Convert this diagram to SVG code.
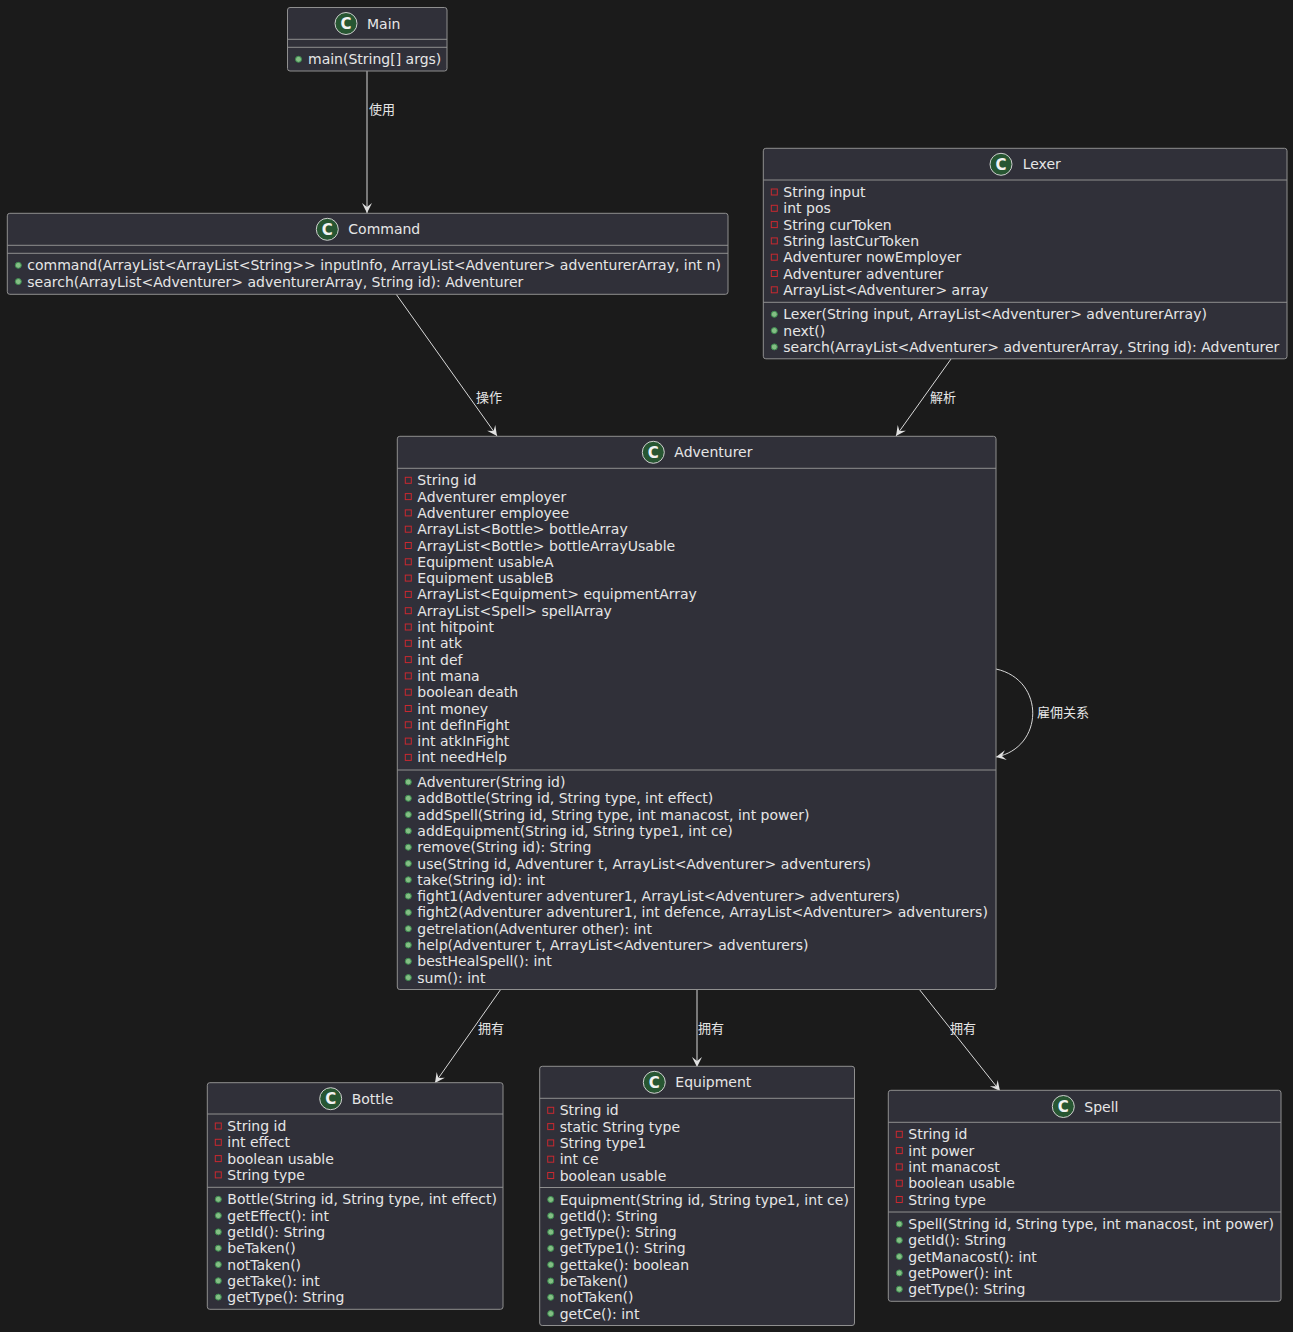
<svg xmlns="http://www.w3.org/2000/svg" xmlns:xlink="http://www.w3.org/1999/xlink" width="1293" height="1332" viewBox="0 0 1293 1332">
<style>
.box{fill:#303039;stroke:#8f8f8f;stroke-width:1}
.div{stroke:#8f8f8f;stroke-width:1}
.t{font-family:"DejaVu Sans",sans-serif;font-size:14px;fill:#e6e6e6}
.lbl{font-family:"Noto Sans CJK SC","DejaVu Sans",sans-serif;font-size:13px;fill:#e6e6e6}
.ci{fill:#275632;stroke:#cfcfcf;stroke-width:1}
.cl{font-family:"DejaVu Sans",sans-serif;font-size:15px;font-weight:bold;fill:#f2f2f2;text-anchor:middle}
.edge{fill:none;stroke:#d8d8d8;stroke-width:1}
</style>
<defs>
<marker id="ah" viewBox="-11 -6 12 12" refX="0" refY="0" markerWidth="12" markerHeight="12" markerUnits="userSpaceOnUse" orient="auto">
<path d="M0,0 L-10,-5 L-6,0 L-10,5 Z" fill="#e0e0e0"/>
</marker>
<rect id="pv" x="-3" y="-3" width="6" height="6" fill="none" stroke="#c82930" stroke-width="1"/>
<circle id="pb" r="3" fill="#84be84" stroke="#3c8c50" stroke-width="1"/>
</defs>
<rect width="1293" height="1332" fill="#1b1b1b"/>

<g id="connectors">
<path class="edge" d="M367,71 L367,213" marker-end="url(#ah)"/>
<text class="lbl" x="369" y="113.5">使用</text>
<path class="edge" d="M396,294 L497,436" marker-end="url(#ah)"/>
<text class="lbl" x="476" y="401.5">操作</text>
<path class="edge" d="M951,359 L896,436" marker-end="url(#ah)"/>
<text class="lbl" x="930" y="401.5">解析</text>
<path class="edge" d="M996,669 C1046,680 1044,748 996,757" marker-end="url(#ah)"/>
<text class="lbl" x="1037" y="716.5">雇佣关系</text>
<path class="edge" d="M501,989 L435,1083" marker-end="url(#ah)"/>
<text class="lbl" x="478" y="1032.5">拥有</text>
<path class="edge" d="M697,989 L697,1067" marker-end="url(#ah)"/>
<text class="lbl" x="698" y="1032.5">拥有</text>
<path class="edge" d="M919,989 L1000,1091" marker-end="url(#ah)"/>
<text class="lbl" x="950" y="1032.5">拥有</text>
</g>

<g id="Main">
<rect class="box" x="287.5" y="7.5" width="159.5" height="63.5" rx="2.5"/>
<line class="div" x1="287.5" y1="39.3" x2="447" y2="39.3"/>
<line class="div" x1="287.5" y1="47.3" x2="447" y2="47.3"/>
<circle class="ci" cx="346" cy="23.5" r="11"/><text class="cl" x="346" y="29">C</text>
<text class="t" x="367" y="28.5">Main</text>
<use xlink:href="#pb" x="298.5" y="59.3"/><text class="t" x="308" y="64.3">main(String[] args)</text>
</g>

<g id="Command">
<rect class="box" x="7.3" y="213.3" width="720.7" height="81" rx="2.5"/>
<line class="div" x1="7.3" y1="245.3" x2="728" y2="245.3"/>
<line class="div" x1="7.3" y1="253.3" x2="728" y2="253.3"/>
<circle class="ci" cx="327.3" cy="229.3" r="11"/><text class="cl" x="327.3" y="234.8">C</text>
<text class="t" x="348.3" y="234.3">Command</text>
<use xlink:href="#pb" x="18.3" y="265.3"/><text class="t" x="27.3" y="270.3">command(ArrayList&lt;ArrayList&lt;String&gt;&gt; inputInfo, ArrayList&lt;Adventurer&gt; adventurerArray, int n)</text>
<use xlink:href="#pb" x="18.3" y="281.6"/><text class="t" x="27.3" y="286.6">search(ArrayList&lt;Adventurer&gt; adventurerArray, String id): Adventurer</text>
</g>

<g id="Lexer">
<rect class="box" x="763.3" y="148.3" width="523.7" height="210.5" rx="2.5"/>
<line class="div" x1="763.3" y1="180" x2="1287" y2="180"/>
<line class="div" x1="763.3" y1="302.3" x2="1287" y2="302.3"/>
<circle class="ci" cx="1001" cy="164.3" r="11"/><text class="cl" x="1001" y="169.8">C</text>
<text class="t" x="1022.7" y="169.3">Lexer</text>
<use xlink:href="#pv" x="774.3" y="192"/><text class="t" x="783.3" y="197">String input</text>
<use xlink:href="#pv" x="774.3" y="208.3"/><text class="t" x="783.3" y="213.3">int pos</text>
<use xlink:href="#pv" x="774.3" y="224.6"/><text class="t" x="783.3" y="229.6">String curToken</text>
<use xlink:href="#pv" x="774.3" y="240.9"/><text class="t" x="783.3" y="245.9">String lastCurToken</text>
<use xlink:href="#pv" x="774.3" y="257.2"/><text class="t" x="783.3" y="262.2">Adventurer nowEmployer</text>
<use xlink:href="#pv" x="774.3" y="273.5"/><text class="t" x="783.3" y="278.5">Adventurer adventurer</text>
<use xlink:href="#pv" x="774.3" y="289.8"/><text class="t" x="783.3" y="294.8">ArrayList&lt;Adventurer&gt; array</text>
<use xlink:href="#pb" x="774.3" y="314.3"/><text class="t" x="783.3" y="319.3">Lexer(String input, ArrayList&lt;Adventurer&gt; adventurerArray)</text>
<use xlink:href="#pb" x="774.3" y="330.6"/><text class="t" x="783.3" y="335.6">next()</text>
<use xlink:href="#pb" x="774.3" y="346.9"/><text class="t" x="783.3" y="351.9">search(ArrayList&lt;Adventurer&gt; adventurerArray, String id): Adventurer</text>
</g>

<g id="Adventurer">
<rect class="box" x="397.3" y="436.3" width="598.7" height="553.2" rx="2.5"/>
<line class="div" x1="397.3" y1="468.3" x2="996" y2="468.3"/>
<line class="div" x1="397.3" y1="770" x2="996" y2="770"/>
<circle class="ci" cx="653.3" cy="452.3" r="11"/><text class="cl" x="653.3" y="457.8">C</text>
<text class="t" x="674.3" y="457.3">Adventurer</text>
<use xlink:href="#pv" x="408.3" y="480.3"/><text class="t" x="417.3" y="485.3">String id</text>
<use xlink:href="#pv" x="408.3" y="496.6"/><text class="t" x="417.3" y="501.6">Adventurer employer</text>
<use xlink:href="#pv" x="408.3" y="512.9"/><text class="t" x="417.3" y="517.9">Adventurer employee</text>
<use xlink:href="#pv" x="408.3" y="529.2"/><text class="t" x="417.3" y="534.2">ArrayList&lt;Bottle&gt; bottleArray</text>
<use xlink:href="#pv" x="408.3" y="545.5"/><text class="t" x="417.3" y="550.5">ArrayList&lt;Bottle&gt; bottleArrayUsable</text>
<use xlink:href="#pv" x="408.3" y="561.8"/><text class="t" x="417.3" y="566.8">Equipment usableA</text>
<use xlink:href="#pv" x="408.3" y="578.1"/><text class="t" x="417.3" y="583.1">Equipment usableB</text>
<use xlink:href="#pv" x="408.3" y="594.4"/><text class="t" x="417.3" y="599.4">ArrayList&lt;Equipment&gt; equipmentArray</text>
<use xlink:href="#pv" x="408.3" y="610.7"/><text class="t" x="417.3" y="615.7">ArrayList&lt;Spell&gt; spellArray</text>
<use xlink:href="#pv" x="408.3" y="627"/><text class="t" x="417.3" y="632">int hitpoint</text>
<use xlink:href="#pv" x="408.3" y="643.3"/><text class="t" x="417.3" y="648.3">int atk</text>
<use xlink:href="#pv" x="408.3" y="659.6"/><text class="t" x="417.3" y="664.6">int def</text>
<use xlink:href="#pv" x="408.3" y="675.9"/><text class="t" x="417.3" y="680.9">int mana</text>
<use xlink:href="#pv" x="408.3" y="692.2"/><text class="t" x="417.3" y="697.2">boolean death</text>
<use xlink:href="#pv" x="408.3" y="708.5"/><text class="t" x="417.3" y="713.5">int money</text>
<use xlink:href="#pv" x="408.3" y="724.8"/><text class="t" x="417.3" y="729.8">int defInFight</text>
<use xlink:href="#pv" x="408.3" y="741.1"/><text class="t" x="417.3" y="746.1">int atkInFight</text>
<use xlink:href="#pv" x="408.3" y="757.4"/><text class="t" x="417.3" y="762.4">int needHelp</text>
<use xlink:href="#pb" x="408.3" y="782"/><text class="t" x="417.3" y="787">Adventurer(String id)</text>
<use xlink:href="#pb" x="408.3" y="798.3"/><text class="t" x="417.3" y="803.3">addBottle(String id, String type, int effect)</text>
<use xlink:href="#pb" x="408.3" y="814.6"/><text class="t" x="417.3" y="819.6">addSpell(String id, String type, int manacost, int power)</text>
<use xlink:href="#pb" x="408.3" y="830.9"/><text class="t" x="417.3" y="835.9">addEquipment(String id, String type1, int ce)</text>
<use xlink:href="#pb" x="408.3" y="847.2"/><text class="t" x="417.3" y="852.2">remove(String id): String</text>
<use xlink:href="#pb" x="408.3" y="863.5"/><text class="t" x="417.3" y="868.5">use(String id, Adventurer t, ArrayList&lt;Adventurer&gt; adventurers)</text>
<use xlink:href="#pb" x="408.3" y="879.8"/><text class="t" x="417.3" y="884.8">take(String id): int</text>
<use xlink:href="#pb" x="408.3" y="896.1"/><text class="t" x="417.3" y="901.1">fight1(Adventurer adventurer1, ArrayList&lt;Adventurer&gt; adventurers)</text>
<use xlink:href="#pb" x="408.3" y="912.4"/><text class="t" x="417.3" y="917.4">fight2(Adventurer adventurer1, int defence, ArrayList&lt;Adventurer&gt; adventurers)</text>
<use xlink:href="#pb" x="408.3" y="928.7"/><text class="t" x="417.3" y="933.7">getrelation(Adventurer other): int</text>
<use xlink:href="#pb" x="408.3" y="945"/><text class="t" x="417.3" y="950">help(Adventurer t, ArrayList&lt;Adventurer&gt; adventurers)</text>
<use xlink:href="#pb" x="408.3" y="961.3"/><text class="t" x="417.3" y="966.3">bestHealSpell(): int</text>
<use xlink:href="#pb" x="408.3" y="977.6"/><text class="t" x="417.3" y="982.6">sum(): int</text>
</g>

<g id="Bottle">
<rect class="box" x="207.3" y="1082.7" width="295.7" height="226.6" rx="2.5"/>
<line class="div" x1="207.3" y1="1114" x2="503" y2="1114"/>
<line class="div" x1="207.3" y1="1187.3" x2="503" y2="1187.3"/>
<circle class="ci" cx="330.7" cy="1098.7" r="11"/><text class="cl" x="330.7" y="1104.2">C</text>
<text class="t" x="351.7" y="1103.7">Bottle</text>
<use xlink:href="#pv" x="218.3" y="1126"/><text class="t" x="227.3" y="1131">String id</text>
<use xlink:href="#pv" x="218.3" y="1142.3"/><text class="t" x="227.3" y="1147.3">int effect</text>
<use xlink:href="#pv" x="218.3" y="1158.6"/><text class="t" x="227.3" y="1163.6">boolean usable</text>
<use xlink:href="#pv" x="218.3" y="1174.9"/><text class="t" x="227.3" y="1179.9">String type</text>
<use xlink:href="#pb" x="218.3" y="1199.3"/><text class="t" x="227.3" y="1204.3">Bottle(String id, String type, int effect)</text>
<use xlink:href="#pb" x="218.3" y="1215.6"/><text class="t" x="227.3" y="1220.6">getEffect(): int</text>
<use xlink:href="#pb" x="218.3" y="1231.9"/><text class="t" x="227.3" y="1236.9">getId(): String</text>
<use xlink:href="#pb" x="218.3" y="1248.2"/><text class="t" x="227.3" y="1253.2">beTaken()</text>
<use xlink:href="#pb" x="218.3" y="1264.5"/><text class="t" x="227.3" y="1269.5">notTaken()</text>
<use xlink:href="#pb" x="218.3" y="1280.8"/><text class="t" x="227.3" y="1285.8">getTake(): int</text>
<use xlink:href="#pb" x="218.3" y="1297.1"/><text class="t" x="227.3" y="1302.1">getType(): String</text>
</g>

<g id="Equipment">
<rect class="box" x="539.7" y="1066.3" width="314.8" height="259.2" rx="2.5"/>
<line class="div" x1="539.7" y1="1098.3" x2="854.5" y2="1098.3"/>
<line class="div" x1="539.7" y1="1187.5" x2="854.5" y2="1187.5"/>
<circle class="ci" cx="654.3" cy="1082.3" r="11"/><text class="cl" x="654.3" y="1087.8">C</text>
<text class="t" x="675.3" y="1087.3">Equipment</text>
<use xlink:href="#pv" x="550.7" y="1110.3"/><text class="t" x="559.7" y="1115.3">String id</text>
<use xlink:href="#pv" x="550.7" y="1126.6"/><text class="t" x="559.7" y="1131.6">static String type</text>
<use xlink:href="#pv" x="550.7" y="1142.9"/><text class="t" x="559.7" y="1147.9">String type1</text>
<use xlink:href="#pv" x="550.7" y="1159.2"/><text class="t" x="559.7" y="1164.2">int ce</text>
<use xlink:href="#pv" x="550.7" y="1175.5"/><text class="t" x="559.7" y="1180.5">boolean usable</text>
<use xlink:href="#pb" x="550.7" y="1199.5"/><text class="t" x="559.7" y="1204.5">Equipment(String id, String type1, int ce)</text>
<use xlink:href="#pb" x="550.7" y="1215.8"/><text class="t" x="559.7" y="1220.8">getId(): String</text>
<use xlink:href="#pb" x="550.7" y="1232.1"/><text class="t" x="559.7" y="1237.1">getType(): String</text>
<use xlink:href="#pb" x="550.7" y="1248.4"/><text class="t" x="559.7" y="1253.4">getType1(): String</text>
<use xlink:href="#pb" x="550.7" y="1264.7"/><text class="t" x="559.7" y="1269.7">gettake(): boolean</text>
<use xlink:href="#pb" x="550.7" y="1281"/><text class="t" x="559.7" y="1286">beTaken()</text>
<use xlink:href="#pb" x="550.7" y="1297.3"/><text class="t" x="559.7" y="1302.3">notTaken()</text>
<use xlink:href="#pb" x="550.7" y="1313.6"/><text class="t" x="559.7" y="1318.6">getCe(): int</text>
</g>

<g id="Spell">
<rect class="box" x="888.3" y="1090.3" width="392.7" height="211" rx="2.5"/>
<line class="div" x1="888.3" y1="1122.3" x2="1281" y2="1122.3"/>
<line class="div" x1="888.3" y1="1212" x2="1281" y2="1212"/>
<circle class="ci" cx="1063.3" cy="1106.5" r="11"/><text class="cl" x="1063.3" y="1112">C</text>
<text class="t" x="1084.3" y="1111.5">Spell</text>
<use xlink:href="#pv" x="899.3" y="1134.3"/><text class="t" x="908.3" y="1139.3">String id</text>
<use xlink:href="#pv" x="899.3" y="1150.6"/><text class="t" x="908.3" y="1155.6">int power</text>
<use xlink:href="#pv" x="899.3" y="1166.9"/><text class="t" x="908.3" y="1171.9">int manacost</text>
<use xlink:href="#pv" x="899.3" y="1183.2"/><text class="t" x="908.3" y="1188.2">boolean usable</text>
<use xlink:href="#pv" x="899.3" y="1199.5"/><text class="t" x="908.3" y="1204.5">String type</text>
<use xlink:href="#pb" x="899.3" y="1224"/><text class="t" x="908.3" y="1229">Spell(String id, String type, int manacost, int power)</text>
<use xlink:href="#pb" x="899.3" y="1240.3"/><text class="t" x="908.3" y="1245.3">getId(): String</text>
<use xlink:href="#pb" x="899.3" y="1256.6"/><text class="t" x="908.3" y="1261.6">getManacost(): int</text>
<use xlink:href="#pb" x="899.3" y="1272.9"/><text class="t" x="908.3" y="1277.9">getPower(): int</text>
<use xlink:href="#pb" x="899.3" y="1289.2"/><text class="t" x="908.3" y="1294.2">getType(): String</text>
</g>
</svg>
